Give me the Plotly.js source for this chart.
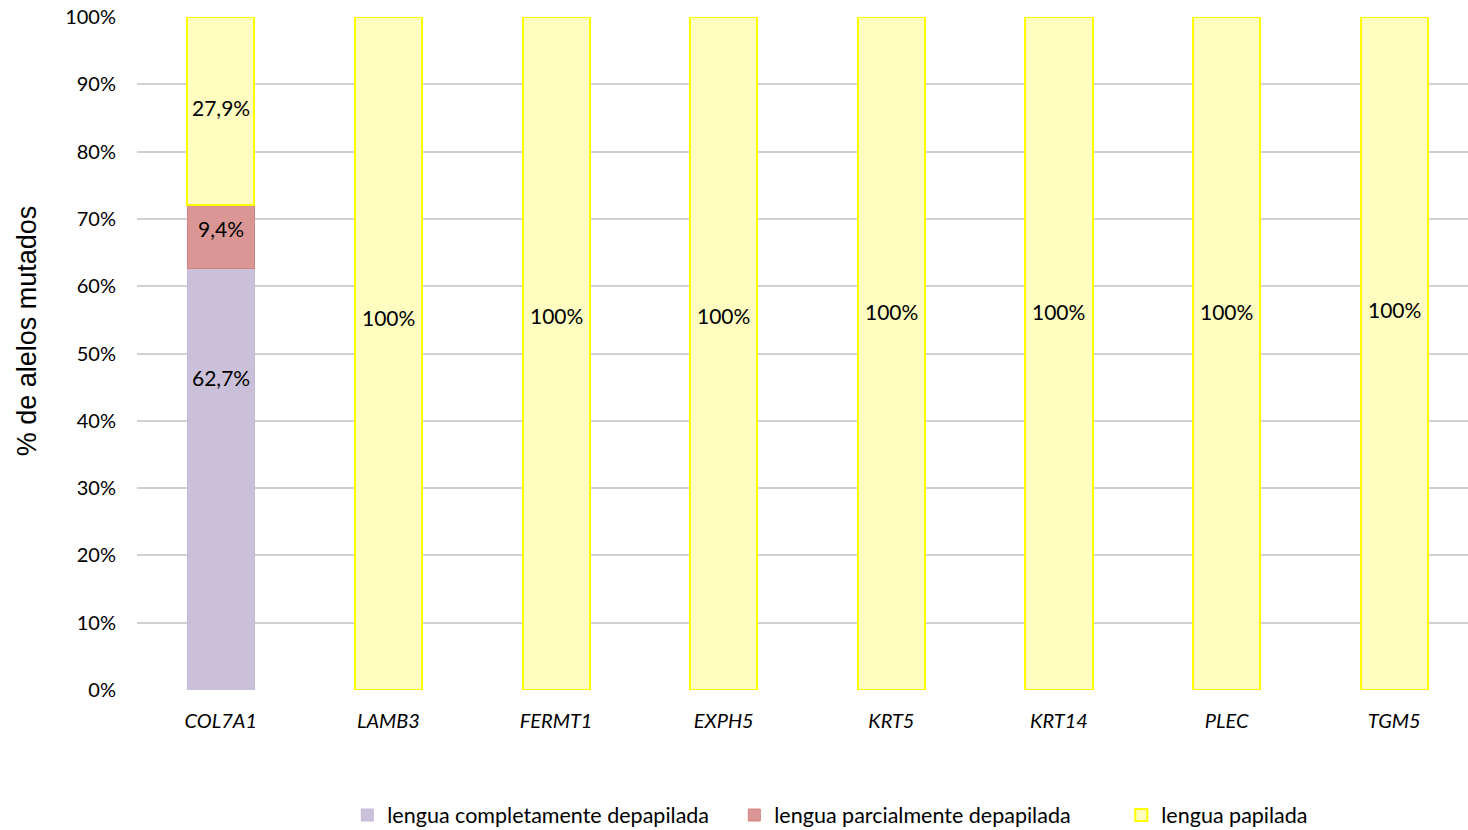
<!DOCTYPE html>
<html>
<head>
<meta charset="utf-8">
<script src="https://cdn.plot.ly/plotly-3.0.1.min.js"></script>
<style>
  html, body { margin: 0; padding: 0; background: #fff; }
  #chart { width: 1468px; height: 830px; }
</style>
</head>
<body>
<div id="chart"></div>
<script>
// Genes (categories on the x axis)
const genes = ['COL7A1', 'LAMB3', 'FERMT1', 'EXPH5', 'KRT5', 'KRT14', 'PLEC', 'TGM5'];

// Percentage of mutated alleles per tongue phenotype
const completamenteDepapilada = [62.7, 0, 0, 0, 0, 0, 0, 0];
const parcialmenteDepapilada  = [9.4, 0, 0, 0, 0, 0, 0, 0];
const papilada                = [27.9, 100, 100, 100, 100, 100, 100, 100];

// Y axis ticks
const yTickVals = [0, 10, 20, 30, 40, 50, 60, 70, 80, 90, 100];
const yTickText = yTickVals.map(v => v + '%');

// Value labels as printed on the bars (comma decimal separator)
const fmt = v => (v === 100 ? '100%' : v.toFixed(1).replace('.', ',') + '%');

const FONT = 'Lato, "Open Sans", sans-serif';
const labelFont = { family: FONT, size: 21, color: '#000' };

// Vertical placement of each value label (axis units), hand-placed per bar
const labelLevelCompleta = 46.4;
const labelLevelParcial  = 68.5;
const labelLevelPapilada = [86.6, 55.3, 55.6, 55.6, 56.2, 56.2, 56.2, 56.6];

const annotations = [];
genes.forEach((g, i) => {
  if (completamenteDepapilada[i] > 0)
    annotations.push({ x: g, y: labelLevelCompleta, text: fmt(completamenteDepapilada[i]) });
  if (parcialmenteDepapilada[i] > 0)
    annotations.push({ x: g, y: labelLevelParcial, text: fmt(parcialmenteDepapilada[i]) });
  if (papilada[i] > 0)
    annotations.push({ x: g, y: labelLevelPapilada[i], text: fmt(papilada[i]) });
});
annotations.forEach(a => {
  a.xref = 'x'; a.yref = 'y'; a.showarrow = false;
  a.font = labelFont; a.xanchor = 'center'; a.yanchor = 'middle';
});

// Y axis title, drawn as a rotated annotation so it can sit slightly above centre
annotations.push({
  xref: 'paper', yref: 'paper', x: -0.0826, y: 0.533,
  xanchor: 'center', yanchor: 'middle', showarrow: false, textangle: -90,
  text: '% de alelos mutados',
  font: { family: '"Liberation Sans", Arial, sans-serif', size: 27, color: '#000' }
});

const traces = [
  {
    type: 'bar', name: 'lengua completamente depapilada',
    x: genes, y: completamenteDepapilada,
    marker: { color: '#CBC0DA', line: { color: '#C4B8D6', width: 1 } }
  },
  {
    type: 'bar', name: 'lengua parcialmente depapilada',
    x: genes, y: parcialmenteDepapilada,
    marker: { color: '#D99694', line: { color: '#D4827F', width: 1 } }
  },
  {
    type: 'bar', name: 'lengua papilada',
    x: genes, y: papilada,
    marker: { color: '#FFFDC0', line: { color: '#FFFF00', width: 2 } }
  }
];

const layout = {
  width: 1468, height: 830,
  paper_bgcolor: '#fff', plot_bgcolor: '#fff',
  margin: { l: 137, r: 0, t: 17, b: 140, autoexpand: false },
  barmode: 'stack',
  bargap: 0.6,
  showlegend: true,
  font: { family: FONT, size: 19, color: '#000' },
  annotations: annotations,
  xaxis: {
    type: 'category', automargin: false,
    range: [-0.5, 7.44], autorange: false,
    showgrid: false, zeroline: false, showline: false,
    ticks: '', ticklabelstandoff: 17,
    tickfont: { family: FONT, size: 20, color: '#000', style: 'italic' }
  },
  yaxis: {
    range: [0, 100], autorange: false, automargin: false,
    tickmode: 'array', tickvals: yTickVals, ticktext: yTickText,
    showgrid: true, gridcolor: '#D0D0D0', gridwidth: 2,
    zeroline: false, showline: false,
    ticks: '', ticklabelstandoff: 20,
    tickfont: { family: FONT, size: 20, color: '#000' }
  },
  legend: {
    orientation: 'h', x: 0.158, xanchor: 'left',
    yref: 'container', y: 0.018, yanchor: 'middle',
    font: { family: FONT, size: 21.5, color: '#000' },
    traceorder: 'normal', itemwidth: 30,
    entrywidth: 342, entrywidthmode: 'pixels'
  }
};

Plotly.newPlot('chart', traces, layout, { displayModeBar: false, staticPlot: true });
</script>
</body>
</html>
